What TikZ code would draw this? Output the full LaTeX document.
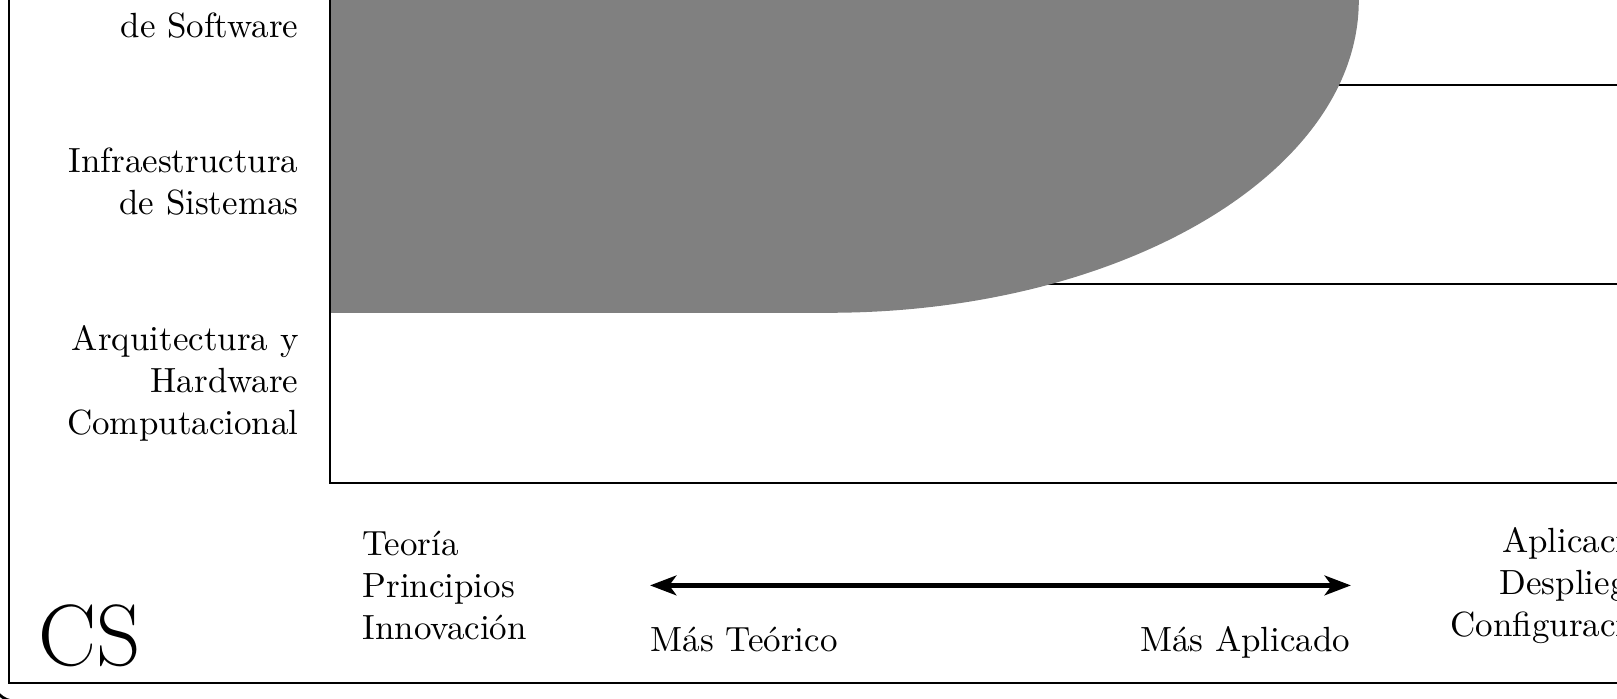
\documentclass[tikz,border=0pt]{standalone}
\usepackage{tikz}
\usetikzlibrary{arrows.meta}
\usetikzlibrary{positioning}

\tikzset{
  rowlabel/.style={align=right, anchor=east, inner sep=0pt},
  endlabel/.style={inner sep=0pt},
  spanarrow/.style={ultra thick, >={Stealth[length=7.5pt, width=5.6pt, inset=2pt]}, <->},
}

\begin{document}
\begin{tikzpicture}
          \useasboundingbox (-3.317,-2.171) rectangle (12.935,4.854);
          \clip (-3.317,-2.171) rectangle (12.935,4.854);
          %outer frames
          \draw[thick, rounded corners=2.4mm] (-3.397,-2.195) rectangle (16,8);
          \draw[thick] (-3.226,-2.01) rectangle (15,8);
          %row separators
          \foreach \y in {2,4}
             \draw[thick] (0,\y) -- (13.73,\y);
          %grey area
          \fill[gray] (0,1.71) -- (5.01,1.71) arc[start angle=-90, end angle=90, x radius=5.33, y radius=3.14] -- (0,7.99) -- cycle;
          \draw[thick] (0,0) rectangle (13.73,8);
          %row labels
          \node[rowlabel] (hw) at (-0.31,1) {Arquitectura y\\Hardware\\Computacional};
          \node[rowlabel] (sys) at (-0.31,3.03) {Infraestructura\\de Sistemas};
          \node[rowlabel, anchor=base east] (sw) at (-0.31,4.48) {de Software};
          %bottom scale
          \coordinate (teo) at (3.216,-1.03);
          \coordinate (apl) at (10.261,-1.03);
          \draw[spanarrow] (teo) -- (apl);
          \node[endlabel, anchor=base west] (masteo) at ([yshift=-6.6mm]teo) {Más Teórico};
          \node[endlabel, anchor=base east] (masapl) at ([yshift=-6.6mm]apl) {Más Aplicado};
          \node[endlabel, align=left, anchor=west] (teoria) at (0.32,-1.03) {Teoría\\Principios\\Innovación};
          \node[endlabel, align=right, anchor=east] (aplic) at (13.40,-1.03) {Aplicación\\Despliegue\\Configuración};
          \node[endlabel, anchor=base west, font=\Huge] (cs) at (-2.94,-1.83) {CS};
      \end{tikzpicture}
\end{document}
